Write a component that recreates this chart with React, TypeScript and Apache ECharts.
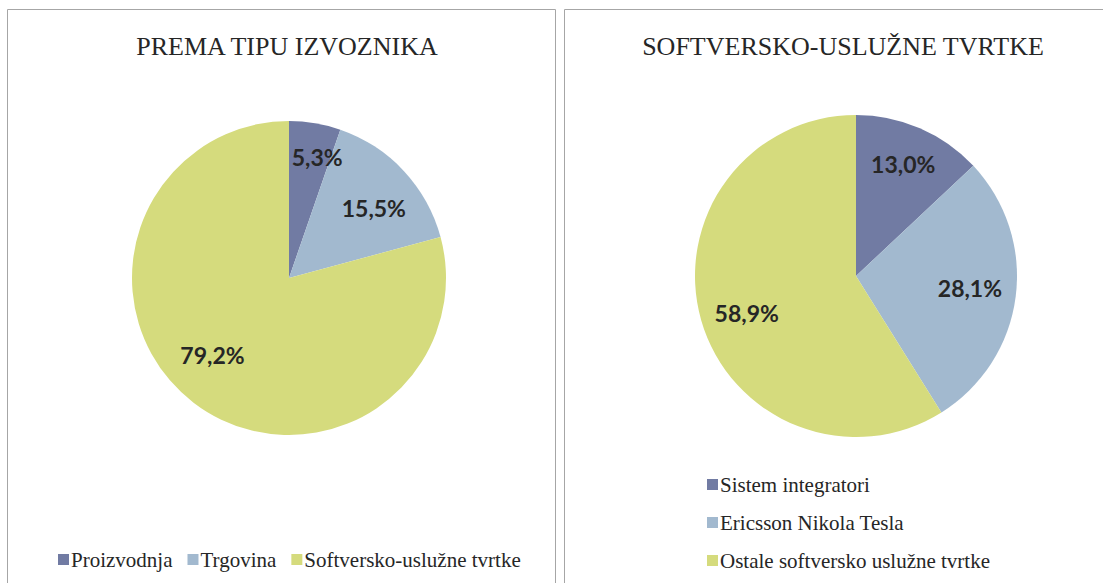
import React, { useEffect, useRef } from "react";
import * as echarts from "echarts";

const leftTitle = "PREMA TIPU IZVOZNIKA";
const leftNames = ["Proizvodnja", "Trgovina", "Softversko-uslužne tvrtke"];
const leftValues = [5.3, 15.5, 79.2];

const rightTitle = "SOFTVERSKO-USLUŽNE TVRTKE";
const rightNames = ["Sistem integratori", "Ericsson Nikola Tesla", "Ostale softversko uslužne tvrtke"];
const rightValues = [13.0, 28.1, 58.9];

const colors = ["#717BA3", "#A2B9CF", "#D5DB7D"];

// small label nudges (Excel places data labels slightly differently from ECharts)
const leftLabelNudge = [
  [9, -7],
  [0, 9],
  [-6, -15],
];
const rightLabelNudge = [
  [0, -3],
  [-4, -3],
  [5, 4],
];

const fmt = (v: number) => v.toFixed(1).replace(".", ",") + "%";

function pieSeries(names: string[], values: number[], center: [number, number], r: number, nudge: number[][]) {
  const data = names.map((n, i) => ({ name: n, value: values[i], itemStyle: { color: colors[i] } }));
  const base = {
    type: "pie",
    center,
    radius: [0, r],
    startAngle: 90,
    clockwise: true,
    silent: true,
    label: { show: false },
    labelLine: { show: false },
    data,
  };
  const labels = {
    type: "pie",
    center,
    radius: [r * 0.44, r],
    startAngle: 90,
    clockwise: true,
    silent: true,
    itemStyle: { color: "rgba(0,0,0,0)", borderWidth: 0 },
    label: {
      show: true,
      position: "inside",
      formatter: (p: any) => fmt(p.value),
      fontFamily: "Lato",
      fontWeight: "bold",
      fontSize: 23,
      color: "#262626",
    },
    labelLayout: (p: any) => ({ dx: nudge[p.dataIndex][0], dy: nudge[p.dataIndex][1] }),
    labelLine: { show: false },
    data: names.map((n, i) => ({ name: n, value: values[i], itemStyle: { color: "rgba(0,0,0,0)" } })),
  };
  return [base, labels];
}

export default function App() {
  const ref = useRef<HTMLDivElement>(null);
  useEffect(() => {
    const chart = echarts.init(ref.current!, null, { renderer: "svg" });
    const legendText = { fontFamily: "Liberation Serif", fontSize: 21, color: "#262626", padding: [0, 0, 0, -3] };
    chart.setOption({
      animation: false,
      backgroundColor: "#ffffff",
      title: [
        {
          text: leftTitle,
          left: 282,
          top: 28,
          textAlign: "center",
          textStyle: { fontFamily: "Liberation Serif", fontWeight: "normal", fontSize: 26, color: "#262626" },
        },
        {
          text: rightTitle,
          left: 838,
          top: 28,
          textAlign: "center",
          textStyle: { fontFamily: "Liberation Serif", fontWeight: "normal", fontSize: 26, color: "#262626" },
        },
      ],
      legend: [
        {
          data: leftNames,
          left: 53,
          top: 544,
          orient: "horizontal",
          icon: "rect",
          itemWidth: 11,
          itemHeight: 11,
          itemGap: 15,
          selectedMode: false,
          textStyle: legendText,
        },
        {
          data: rightNames,
          left: 702,
          top: 469,
          orient: "vertical",
          icon: "rect",
          itemWidth: 11,
          itemHeight: 11,
          itemGap: 17,
          selectedMode: false,
          textStyle: legendText,
        },
      ],
      graphic: [
        { type: "rect", shape: { x: 7.5, y: 9.5, width: 548, height: 600 }, style: { fill: "none", stroke: "#a6a6a6", lineWidth: 1 } },
        { type: "rect", shape: { x: 564.5, y: 9.5, width: 560, height: 600 }, style: { fill: "none", stroke: "#a6a6a6", lineWidth: 1 } },
      ],
      series: [
        ...pieSeries(leftNames, leftValues, [289, 278], 157, leftLabelNudge),
        ...pieSeries(rightNames, rightValues, [856, 276], 161, rightLabelNudge),
      ],
    });
    return () => chart.dispose();
  }, []);
  return <div ref={ref} style={{ position: "fixed", left: 0, top: 0, width: 1103, height: 583 }} />;
}
